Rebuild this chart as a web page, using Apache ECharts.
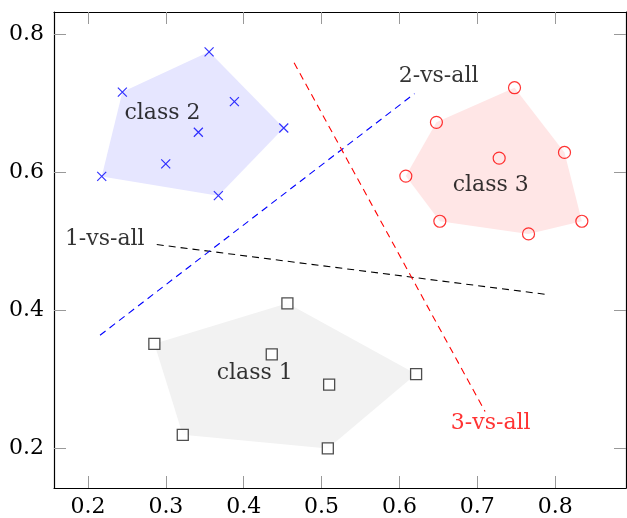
<!DOCTYPE html>
<html>
<head>
<meta charset="utf-8">
<script src="https://cdn.jsdelivr.net/npm/echarts@6/dist/echarts.min.js"></script>
<style>html,body{margin:0;padding:0;background:#fff}#c{width:627px;height:518px}</style>
</head>
<body>
<div id="c"></div>
<script>
// ---- data ----
const class1 = [[0.2852,0.3514],[0.3217,0.2196],[0.4561,0.4100],[0.4360,0.3360],[0.5097,0.2923],[0.6214,0.3076],[0.5080,0.2000]];
const class2 = [[0.2441,0.7158],[0.3555,0.7740],[0.3880,0.7020],[0.4514,0.6638],[0.3417,0.6576],[0.2998,0.6119],[0.2176,0.5937],[0.3674,0.5658]];
const class3 = [[0.7478,0.7221],[0.6475,0.6720],[0.7281,0.6201],[0.8120,0.6284],[0.6082,0.5942],[0.6519,0.5288],[0.7658,0.5105],[0.8343,0.5288]];
// hull vertex indices into each class
const hull1 = [0,2,5,6,1];
const hull2 = [6,0,1,3,7];
const hull3 = [4,1,0,3,7,6,5];
// separating lines (endpoints)
const line1 = [[0.2883,0.4951],[0.7914,0.4225]];
const line2 = [[0.2154,0.3638],[0.6193,0.7135]];
const line3 = [[0.4647,0.7582],[0.7100,0.2533]];
// text labels and anchors
const labelTexts = ['class 1','class 2','class 3','1-vs-all','2-vs-all','3-vs-all'];
const labelAnchors = [[0.4142,0.3092],[0.2957,0.6850],[0.7172,0.5803],[0.2215,0.5024],[0.6503,0.7380],[0.7172,0.2365]];
const labelColors = ['#000','#000','#000','#000','#000','#ff0000'];
const xTicks = [0.2,0.3,0.4,0.5,0.6,0.7,0.8];
const yTicks = [0.2,0.4,0.6,0.8];
const xRange = [0.1563, 0.891];
const yRange = [0.1427, 0.8317];

const FONT = 'DejaVu Serif';
const FS = 22;

function hullSeries(points, idx, fill) {
  return {
    type: 'custom', xAxisIndex: 0, yAxisIndex: 0, silent: true, z: 1,
    data: [0],
    renderItem: function (params, api) {
      const pts = idx.map(i => api.coord(points[i]));
      return { type: 'polygon', shape: { points: pts }, style: { fill: fill, stroke: 'none' } };
    }
  };
}
function lineSeries(pts, color) {
  return {
    type: 'line', data: pts, symbol: 'none', silent: true, z: 3,
    lineStyle: { color: color, width: 1.1, type: [7, 5] }
  };
}
function tickStyle(vals) {
  return { show: true, inside: true, length: 12, customValues: vals, lineStyle: { color: '#999', width: 1 } };
}
const axisLine = { show: true, lineStyle: { color: '#000', width: 1.2 } };
const chart = echarts.init(document.getElementById('c'), null, { renderer: 'canvas' });
const fmt = v => (+v).toFixed(1);
chart.setOption({
  animation: false,
  backgroundColor: '#fff',
  grid: { left: 54, right: 1, top: 12, bottom: 28, containLabel: false },
  xAxis: [
    { type: 'value', position: 'bottom', min: xRange[0], max: xRange[1], axisLine: axisLine, splitLine: { show: false },
      axisTick: tickStyle(xTicks),
      axisLabel: { show: true, customValues: xTicks, formatter: fmt, margin: 8, fontFamily: FONT, fontSize: FS, color: '#000' } },
    { type: 'value', position: 'top', min: xRange[0], max: xRange[1], axisLine: axisLine, splitLine: { show: false },
      axisTick: tickStyle(xTicks), axisLabel: { show: false } }
  ],
  yAxis: [
    { type: 'value', position: 'left', min: yRange[0], max: yRange[1], axisLine: axisLine, splitLine: { show: false },
      axisTick: tickStyle(yTicks),
      axisLabel: { show: true, customValues: yTicks, formatter: fmt, margin: 10, fontFamily: FONT, fontSize: FS, color: '#000' } },
    { type: 'value', position: 'right', min: yRange[0], max: yRange[1], axisLine: axisLine, splitLine: { show: false },
      axisTick: tickStyle(yTicks), axisLabel: { show: false } }
  ],
  series: [
    hullSeries(class1, hull1, '#f2f2f2'),
    hullSeries(class2, hull2, '#e6e6ff'),
    hullSeries(class3, hull3, '#ffe6e6'),
    lineSeries(line1, '#000'),
    lineSeries(line2, '#0000ff'),
    lineSeries(line3, '#ff0000'),
    {
      type: 'scatter', data: class1, symbol: 'rect', symbolSize: 11, z: 5,
      itemStyle: { color: '#fff', borderColor: '#222', borderWidth: 1.3 }
    },
    {
      type: 'scatter', data: class2, symbol: 'path://M0,0L10,10M10,0L0,10', symbolSize: 9, z: 5,
      itemStyle: { color: 'rgba(0,0,0,0)', borderColor: '#0000ff', borderWidth: 1.2 }
    },
    {
      type: 'scatter', data: class3, symbol: 'circle', symbolSize: 12, z: 5,
      itemStyle: { color: 'rgba(0,0,0,0)', borderColor: '#ff0000', borderWidth: 1.2 }
    },
    {
      type: 'scatter', z: 6, symbolSize: 0, silent: true,
      data: labelAnchors.map((p, i) => ({
        value: p,
        label: { show: true, position: 'inside', formatter: labelTexts[i], color: labelColors[i],
                 fontFamily: FONT, fontSize: FS, align: 'center', verticalAlign: 'middle' }
      }))
    }
  ]
});
</script>
</body>
</html>
